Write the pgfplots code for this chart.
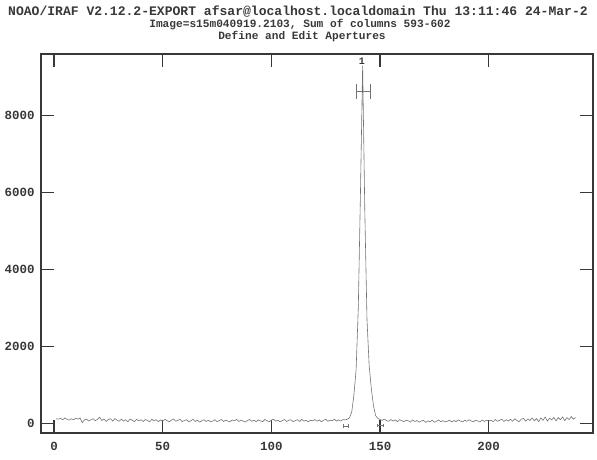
\documentclass[border=0pt]{standalone}
\usepackage{pgfplots}
\pgfplotsset{compat=1.18}
\usepackage{fontspec}
\setmainfont{Liberation Mono}
\definecolor{axc}{gray}{0.22}
\definecolor{datc}{gray}{0.45}
\definecolor{txc}{gray}{0.22}
\newcommand{\tfont}{\fontsize{12.5}{14}\selectfont\bfseries}
\begin{document}
\begin{tikzpicture}
\path[use as bounding box] (0,0) rectangle (597bp,460bp);
\node[anchor=west, inner sep=0, font=\fontsize{13.1}{15}\selectfont\bfseries, text=txc] at (8bp,448bp) {NOAO/IRAF V2.12.2-EXPORT afsar@localhost.localdomain Thu 13:11:46 24-Mar-2};
\node[inner sep=0, font=\fontsize{11.2}{13}\selectfont\bfseries, text=txc] at (300bp,435bp) {Image=s15m040919.2103, Sum of columns 593-602};
\node[inner sep=0, font=\fontsize{11.2}{13}\selectfont\bfseries, text=txc] at (302bp,423bp) {Define and Edit Apertures};
\begin{axis}[
  at={(41bp,27bp)}, anchor=south west,
  width=552bp, height=379bp, scale only axis,
  xmin=-6, xmax=248, ymin=-250, ymax=9600,
  xtick={0,50,100,150,200}, ytick={0,2000,4000,6000,8000},
  tick align=inside, major tick length=13bp,
  axis line style={draw=axc, line width=1.1pt},
  tick style={draw=axc, line width=1.1pt},
  ticklabel style={font=\tfont, text=txc},
  /pgf/number format/assume math mode=true,
  /pgf/number format/set thousands separator={},
  scaled y ticks=false,
  xticklabel style={yshift=-6bp},
  yticklabel style={xshift=-3bp},
  clip=false,
]
\addplot[datc, line width=0.6pt] coordinates {
(1,120)(2,110)(3,130)(4,95)(5,140)(6,105)(7,85)(8,120)(9,95)(10,135)
(11,110)(12,140)(13,20)(14,90)(15,110)(16,60)(17,95)(18,120)(19,70)(20,105)
(21,160)(22,75)(23,115)(24,50)(25,100)(26,120)(27,60)(28,125)(29,85)(30,55)
(31,110)(32,60)(33,95)(34,40)(35,115)(36,80)(37,45)(38,105)(39,65)(40,95)
(41,50)(42,100)(43,75)(44,40)(45,110)(46,65)(47,95)(48,45)(49,90)(50,60)
(51,105)(52,70)(53,40)(54,85)(55,115)(56,55)(57,80)(58,105)(59,45)(60,75)
(61,95)(62,40)(63,70)(64,105)(65,50)(66,80)(67,35)(68,65)(69,95)(70,50)
(71,80)(72,40)(73,60)(74,95)(75,45)(76,75)(77,100)(78,50)(79,85)(80,60)
(81,40)(82,90)(83,65)(84,105)(85,50)(86,85)(87,60)(88,35)(89,75)(90,100)
(91,55)(92,85)(93,40)(94,90)(95,65)(96,45)(97,100)(98,70)(99,40)(100,85)
(101,110)(102,55)(103,85)(104,40)(105,70)(106,100)(107,50)(108,80)(109,95)(110,45)
(111,70)(112,95)(113,50)(114,105)(115,60)(116,80)(117,40)(118,85)(119,65)(120,100)
(121,55)(122,90)(123,45)(124,80)(125,105)(126,55)(127,85)(128,65)(129,110)(130,60)
(131,90)(132,60)(133,100)(134,90)
(135,110)(136,150)(137,300)(138,750)(139,1400)(140,3000)(141,6000)(142,9300)(143,5500)(144,2700)
(145,1500)(146,900)(147,450)(148,200)(149,130)
(150,100)(151,80)(152,110)(153,70)(154,55)(155,100)(156,60)(157,90)(158,45)(159,95)(160,70)
(161,45)(162,85)(163,65)(164,35)(165,90)(166,50)(167,75)(168,30)(169,65)(170,80)
(171,25)(172,65)(173,40)(174,80)(175,30)(176,55)(177,90)(178,45)(179,70)(180,40)
(181,55)(182,85)(183,35)(184,75)(185,45)(186,90)(187,60)(188,40)(189,80)(190,55)
(191,95)(192,60)(193,40)(194,85)(195,65)(196,35)(197,90)(198,50)(199,80)(200,60)
(201,85)(202,45)(203,100)(204,55)(205,80)(206,110)(207,50)(208,95)(209,60)(210,105)
(211,55)(212,120)(213,75)(214,45)(215,110)(216,130)(217,60)(218,115)(219,75)(220,140)
(221,65)(222,125)(223,45)(224,145)(225,80)(226,165)(227,60)(228,135)(229,90)(230,155)
(231,65)(232,150)(233,95)(234,170)(235,70)(236,150)(237,100)(238,175)(239,110)(240,150)
};
% aperture marker
\addplot[datc, line width=0.6pt, mark=|, mark size=7.5bp, mark options={solid, line width=0.6pt}] coordinates {(139,8620) (145.7,8620)};
% background regions
\addplot[datc, line width=0.5pt, mark=|, mark size=1.8bp, mark options={solid, line width=0.5pt}] coordinates {(133,-70) (135.5,-70)};
\addplot[datc, line width=0.5pt, mark=|, mark size=1.8bp, mark options={solid, line width=0.5pt}] coordinates {(148.5,-60) (151.5,-60)};
\node[font=\fontsize{10}{11}\selectfont\bfseries, text=txc, inner sep=0] at (axis cs:141.6,9400) {1};
\end{axis}
\end{tikzpicture}
\end{document}
